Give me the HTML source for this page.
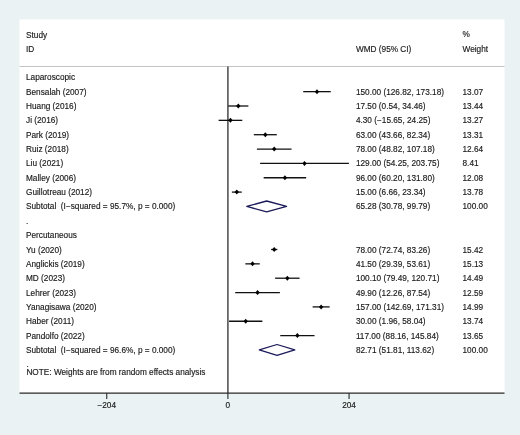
<!DOCTYPE html>
<html><head><meta charset="utf-8"><style>
html,body{margin:0;padding:0;}
body{width:520px;height:435px;overflow:hidden;background:rgb(234,242,243);}
svg{display:block;filter:blur(0.35px);}
text{font-family:"Liberation Sans",sans-serif;font-size:8.25px;fill:#1a1a1a;stroke:#1a1a1a;stroke-width:0.15px;}
</style></head><body>
<svg width="520" height="435" viewBox="0 0 520 435">
<rect x="0" y="0" width="520" height="435" fill="rgb(234,242,243)"/>
<rect x="19.5" y="19.5" width="485.0" height="373.6" fill="#fff"/>
<line x1="19.5" y1="66.5" x2="504.5" y2="66.5" stroke="#c4c4c4" stroke-width="1"/>
<line x1="227.9" y1="66.5" x2="227.9" y2="393.1" stroke="#555" stroke-width="1.6"/>
<line x1="19.5" y1="393.1" x2="504.5" y2="393.1" stroke="#2a2a2a" stroke-width="1.1"/>
<line x1="106.74" y1="393.1" x2="106.74" y2="399.1" stroke="#2a2a2a" stroke-width="1.1"/>
<line x1="227.90" y1="393.1" x2="227.90" y2="399.1" stroke="#2a2a2a" stroke-width="1.1"/>
<line x1="349.06" y1="393.1" x2="349.06" y2="399.1" stroke="#2a2a2a" stroke-width="1.1"/>
<line x1="303.22" y1="91.65" x2="330.75" y2="91.65" stroke="#111" stroke-width="1.3"/>
<polygon points="314.79,91.65 316.99,89.15 319.19,91.65 316.99,94.15" fill="#000"/>
<line x1="228.22" y1="106.00" x2="248.37" y2="106.00" stroke="#111" stroke-width="1.3"/>
<polygon points="236.09,106.00 238.29,103.50 240.49,106.00 238.29,108.50" fill="#000"/>
<line x1="218.61" y1="120.35" x2="242.30" y2="120.35" stroke="#111" stroke-width="1.3"/>
<polygon points="228.25,120.35 230.45,117.85 232.65,120.35 230.45,122.85" fill="#000"/>
<line x1="253.83" y1="134.70" x2="276.80" y2="134.70" stroke="#111" stroke-width="1.3"/>
<polygon points="263.12,134.70 265.32,132.20 267.52,134.70 265.32,137.20" fill="#000"/>
<line x1="256.89" y1="149.05" x2="291.55" y2="149.05" stroke="#111" stroke-width="1.3"/>
<polygon points="272.02,149.05 274.22,146.55 276.42,149.05 274.22,151.55" fill="#000"/>
<line x1="260.12" y1="163.40" x2="348.91" y2="163.40" stroke="#111" stroke-width="1.3"/>
<polygon points="302.31,163.40 304.51,160.90 306.71,163.40 304.51,165.90" fill="#000"/>
<line x1="263.65" y1="177.75" x2="306.18" y2="177.75" stroke="#111" stroke-width="1.3"/>
<polygon points="282.71,177.75 284.91,175.25 287.11,177.75 284.91,180.25" fill="#000"/>
<line x1="231.86" y1="192.10" x2="241.76" y2="192.10" stroke="#111" stroke-width="1.3"/>
<polygon points="234.61,192.10 236.81,189.60 239.01,192.10 236.81,194.60" fill="#000"/>
<polygon points="246.78,206.45 266.67,201.00 286.57,206.45 266.67,211.90" fill="none" stroke="#1c1b5a" stroke-width="1.3" stroke-linejoin="round"/>
<line x1="271.10" y1="249.50" x2="277.35" y2="249.50" stroke="#111" stroke-width="1.3"/>
<polygon points="272.02,249.50 274.22,247.00 276.42,249.50 274.22,252.00" fill="#000"/>
<line x1="245.35" y1="263.85" x2="259.74" y2="263.85" stroke="#111" stroke-width="1.3"/>
<polygon points="250.35,263.85 252.55,261.35 254.75,263.85 252.55,266.35" fill="#000"/>
<line x1="275.11" y1="278.20" x2="299.59" y2="278.20" stroke="#111" stroke-width="1.3"/>
<polygon points="285.15,278.20 287.35,275.70 289.55,278.20 287.35,280.70" fill="#000"/>
<line x1="235.18" y1="292.55" x2="279.89" y2="292.55" stroke="#111" stroke-width="1.3"/>
<polygon points="255.34,292.55 257.54,290.05 259.74,292.55 257.54,295.05" fill="#000"/>
<line x1="312.64" y1="306.90" x2="329.64" y2="306.90" stroke="#111" stroke-width="1.3"/>
<polygon points="318.94,306.90 321.14,304.40 323.34,306.90 321.14,309.40" fill="#000"/>
<line x1="229.06" y1="321.25" x2="262.37" y2="321.25" stroke="#111" stroke-width="1.3"/>
<polygon points="243.52,321.25 245.72,318.75 247.92,321.25 245.72,323.75" fill="#000"/>
<line x1="280.26" y1="335.60" x2="314.51" y2="335.60" stroke="#111" stroke-width="1.3"/>
<polygon points="295.19,335.60 297.39,333.10 299.59,335.60 297.39,338.10" fill="#000"/>
<polygon points="259.27,349.95 277.02,344.50 294.78,349.95 277.02,355.40" fill="none" stroke="#1c1b5a" stroke-width="1.3" stroke-linejoin="round"/>
<text x="106.74" y="407.9" text-anchor="middle" font-size="8.0">−204</text>
<text x="227.90" y="407.9" text-anchor="middle" font-size="8.0">0</text>
<text x="349.06" y="407.9" text-anchor="middle" font-size="8.0">204</text>
<text x="26.0" y="37.60">Study</text>
<text x="26.0" y="51.70">ID</text>
<text x="355.9" y="51.60">WMD (95% CI)</text>
<text x="462.5" y="37.30">%</text>
<text x="462.5" y="51.60">Weight</text>
<text x="26.0" y="80.30">Laparoscopic</text>
<text x="26.0" y="94.65">Bensalah (2007)</text>
<text x="355.9" y="94.65">150.00 (126.82, 173.18)</text>
<text x="462.5" y="94.65">13.07</text>
<text x="26.0" y="109.00">Huang (2016)</text>
<text x="355.9" y="109.00">17.50 (0.54, 34.46)</text>
<text x="462.5" y="109.00">13.44</text>
<text x="26.0" y="123.35">Ji (2016)</text>
<text x="355.9" y="123.35">4.30 (−15.65, 24.25)</text>
<text x="462.5" y="123.35">13.27</text>
<text x="26.0" y="137.70">Park (2019)</text>
<text x="355.9" y="137.70">63.00 (43.66, 82.34)</text>
<text x="462.5" y="137.70">13.31</text>
<text x="26.0" y="152.05">Ruiz (2018)</text>
<text x="355.9" y="152.05">78.00 (48.82, 107.18)</text>
<text x="462.5" y="152.05">12.64</text>
<text x="26.0" y="166.40">Liu (2021)</text>
<text x="355.9" y="166.40">129.00 (54.25, 203.75)</text>
<text x="462.5" y="166.40">8.41</text>
<text x="26.0" y="180.75">Malley (2006)</text>
<text x="355.9" y="180.75">96.00 (60.20, 131.80)</text>
<text x="462.5" y="180.75">12.08</text>
<text x="26.0" y="195.10">Guillotreau (2012)</text>
<text x="355.9" y="195.10">15.00 (6.66, 23.34)</text>
<text x="462.5" y="195.10">13.78</text>
<text x="26.0" y="209.45">Subtotal&#160;&#160;(I−squared = 95.7%, p = 0.000)</text>
<text x="355.9" y="209.45">65.28 (30.78, 99.79)</text>
<text x="462.5" y="209.45">100.00</text>
<text x="26.1" y="224.00">.</text>
<text x="26.0" y="238.15">Percutaneous</text>
<text x="26.0" y="252.50">Yu (2020)</text>
<text x="355.9" y="252.50">78.00 (72.74, 83.26)</text>
<text x="462.5" y="252.50">15.42</text>
<text x="26.0" y="266.85">Anglickis (2019)</text>
<text x="355.9" y="266.85">41.50 (29.39, 53.61)</text>
<text x="462.5" y="266.85">15.13</text>
<text x="26.0" y="281.20">MD (2023)</text>
<text x="355.9" y="281.20">100.10 (79.49, 120.71)</text>
<text x="462.5" y="281.20">14.49</text>
<text x="26.0" y="295.55">Lehrer (2023)</text>
<text x="355.9" y="295.55">49.90 (12.26, 87.54)</text>
<text x="462.5" y="295.55">12.59</text>
<text x="26.0" y="309.90">Yanagisawa (2020)</text>
<text x="355.9" y="309.90">157.00 (142.69, 171.31)</text>
<text x="462.5" y="309.90">14.99</text>
<text x="26.0" y="324.25">Haber (2011)</text>
<text x="355.9" y="324.25">30.00 (1.96, 58.04)</text>
<text x="462.5" y="324.25">13.74</text>
<text x="26.0" y="338.60">Pandolfo (2022)</text>
<text x="355.9" y="338.60">117.00 (88.16, 145.84)</text>
<text x="462.5" y="338.60">13.65</text>
<text x="26.0" y="352.95">Subtotal&#160;&#160;(I−squared = 96.6%, p = 0.000)</text>
<text x="355.9" y="352.95">82.71 (51.81, 113.62)</text>
<text x="462.5" y="352.95">100.00</text>
<text x="26.4" y="366.80">.</text>
<text x="26.4" y="374.60">NOTE: Weights are from random effects analysis</text>
</svg>
</body></html>
